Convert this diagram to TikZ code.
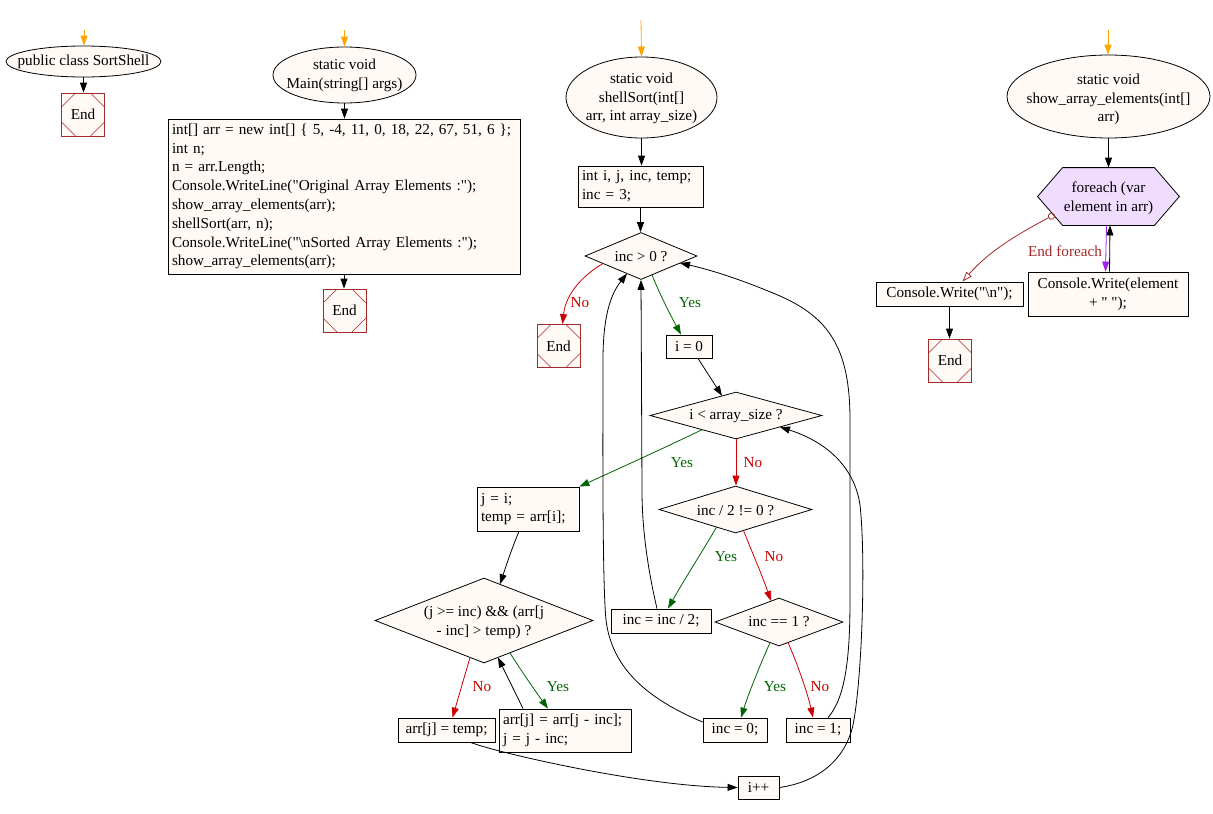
\documentclass[tikz,border=0pt]{standalone}
\usepackage{fontspec}
\setmainfont{Liberation Serif}
\newfontfamily\lsfont{Liberation Serif}
\usetikzlibrary{shapes.geometric,arrows.meta}
\definecolor{nodefill}{HTML}{FFFAF5}
\definecolor{endred}{HTML}{A52A2A}
\definecolor{nored}{HTML}{CC0000}
\definecolor{yesgreen}{HTML}{006400}
\definecolor{startorange}{HTML}{FFA500}
\definecolor{loopfill}{HTML}{F0DCFF}
\definecolor{looppurple}{HTML}{A020F0}
\begin{document}
\begin{tikzpicture}[x=1pt,y=-1pt,
  font=\lsfont\fontsize{15.2}{18.8}\selectfont,
  line width=0.8pt,
  >={Triangle[length=10pt,width=7pt]},
  ell/.style={ellipse, draw, fill=nodefill, inner sep=0pt},
  proc/.style={rectangle, draw, fill=nodefill, inner sep=0pt},
  lproc/.style={rectangle, draw, fill=nodefill, inner xsep=4pt, inner ysep=2pt, align=left},
  dia/.style={diamond, draw, fill=nodefill, inner sep=0pt},
  txt/.style={align=center, inner sep=0pt},
  endbox/.style={rectangle, draw=endred, fill=nodefill, minimum width=43pt, minimum height=43pt, inner sep=0pt,
    path picture={
      \draw[endred, line width=0.6pt] ([yshift=-14pt]path picture bounding box.north west) -- ([xshift=14pt]path picture bounding box.north west);
      \draw[endred, line width=0.6pt] ([xshift=-14pt]path picture bounding box.north east) -- ([yshift=-14pt]path picture bounding box.north east);
      \draw[endred, line width=0.6pt] ([yshift=14pt]path picture bounding box.south east) -- ([xshift=-14pt]path picture bounding box.south east);
      \draw[endred, line width=0.6pt] ([xshift=14pt]path picture bounding box.south west) -- ([yshift=14pt]path picture bounding box.south west);
    }},
  flow/.style={->, black},
  yesarrow/.style={->, yesgreen},
  noarrow/.style={->, nored},
  startarrow/.style={->, startorange},
  lyes/.style={text=yesgreen, inner sep=0pt},
  lno/.style={text=nored, inner sep=0pt}
]
\useasboundingbox (0,0) rectangle (1213,814);

% ---------------- column 1
\coordinate (s1) at (84,30);
\node[ell, minimum width=155pt, minimum height=31pt] (e1) at (83.5,61.5) {};
\node[txt] (e1t) at (83.5,62) {public class SortShell};
\node[endbox] (end1) at (83,114.5) {End};
\draw[startarrow] (s1) -- (s1 |- e1.north);
\draw[flow] (e1.south) -- (e1.south |- end1.north);

% ---------------- column 2
\coordinate (s2) at (344.5,30);
\node[ell, minimum width=143pt, minimum height=56pt] (e2) at (344.5,75) {};
\node[txt] (e2t) at (344.5,75.5) {static void\\Main(string[] args)};
\node[lproc, text width=344pt, minimum height=155pt] (b2) at (344,196.5) {int[] arr = new int[] \{ 5, -4, 11, 0, 18, 22, 67, 51, 6 \};\\int n;\\n = arr.Length;\\Console.WriteLine("Original Array Elements :");\\show\_array\_elements(arr);\\shellSort(arr, n);\\Console.WriteLine("\textbackslash nSorted Array Elements :");\\show\_array\_elements(arr);};
\node[endbox] (end2) at (344.5,310.5) {End};
\draw[startarrow] (s2) -- (e2.north);
\draw[flow] (e2.south) -- (e2.south |- b2.north);
\draw[flow] (b2.south) -- (b2.south |- end2.north);

% ---------------- column 3
\coordinate (s3) at (641,20);
\node[ell, minimum width=151pt, minimum height=81pt] (e3) at (641.5,97.5) {};
\node[txt] (e3t) at (641.5,98.5) {static void\\shellSort(int[]\\arr, int array\_size)};
\node[lproc, text width=117pt, minimum height=41pt] (b3) at (640.5,186.5) {int i, j, inc, temp;\\inc = 3;};
\node[dia, minimum width=112pt, minimum height=47pt] (d1) at (641,256) {};
\node[txt] (d1t) at (641,257) {inc > 0 ?};
\node[endbox] (end3) at (558.5,346) {End};
\node[proc, minimum width=46pt, minimum height=23pt] (bi0) at (689,346.5) {i = 0};
\node[dia, minimum width=172pt, minimum height=47pt] (d2) at (736,415.5) {};
\node[txt] (d2t) at (736,416.5) {i < array\_size ?};
\node[lproc, text width=94pt, minimum height=44pt] (bj) at (528,509) {j = i;\\temp = arr[i];};
\node[dia, minimum width=218pt, minimum height=85pt] (d4) at (484,620.5) {};
\node[txt] (d4t) at (484,622) {(j >= inc) \&\& (arr[j\\- inc] > temp) ?};
\node[proc, minimum width=97pt, minimum height=24pt] (bt) at (446.5,730) {arr[j] = temp;};
\node[lproc, text width=124pt, minimum height=43pt] (bs) at (565,730.5) {arr[j] = arr[j - inc];\\j = j - inc;};
\node[proc, minimum width=41pt, minimum height=23pt] (bpp) at (758.5,787.5) {i++};
\node[dia, minimum width=153pt, minimum height=47pt] (d3) at (735.5,509.5) {};
\node[txt] (d3t) at (735.5,510.5) {inc / 2 != 0 ?};
\node[proc, minimum width=100pt, minimum height=24pt] (bh) at (661,621) {inc = inc / 2;};
\node[dia, minimum width=128pt, minimum height=48pt] (d5) at (779,622) {};
\node[txt] (d5t) at (779,622) {inc == 1 ?};
\node[proc, minimum width=64pt, minimum height=24pt] (b0) at (735,730) {inc = 0;};
\node[proc, minimum width=64pt, minimum height=24pt] (b1) at (818,730) {inc = 1;};

\draw[startarrow] (s3) -- (e3.north);
\draw[flow] (e3.south) -- (e3.south |- b3.north);
\draw[flow] (b3.south) -- (b3.south |- d1.north);
\draw[noarrow] ([shift={(-38,7.5)}]d1.center) .. controls (585,274) and (566,292) .. ([xshift=4pt]end3.north);
\node[lno] (lno1) at (580,303) {No};
\draw[yesarrow] ([shift={(11,18.9)}]d1.center) .. controls (660,295) and (672,318) .. ([xshift=-8pt]bi0.north);
\node[lyes] (lyes1) at (690,303) {Yes};
\draw[flow] ([xshift=9pt]bi0.south) -- ([shift={(-14,-19.7)}]d2.center);
\draw[yesarrow] ([shift={(-34,14.2)}]d2.center) .. controls (660,450) and (620,468) .. (bj.north east);
\node[lyes] (lyes2) at (682,463) {Yes};
\draw[noarrow] (d2.south) -- (d2.south |- d3.north);
\node[lno] (lno2) at (753,463) {No};
\draw[flow] ([xshift=-9pt]bj.south) .. controls (512,548) and (506,566) .. ([shift={(16,-36.3)}]d4.center);
\draw[noarrow] ([shift={(-14,37)}]d4.center) -- ([xshift=6pt]bt.north);
\node[lno] (lno3) at (482,687) {No};
\draw[yesarrow] ([shift={(26,32.4)}]d4.center) .. controls (522,672) and (536,692) .. ([xshift=-17pt]bs.north);
\node[lyes] (lyes3) at (558,687) {Yes};
\draw[flow] ([xshift=-42pt]bs.north) .. controls (515,692) and (505,672) .. ([shift={(14,37)}]d4.center);
\draw[flow] ([xshift=24pt]bt.south) .. controls (495,752) and (640,786) .. (bpp.west);
\draw[flow] (bpp.east) .. controls (818,782) and (845,760) .. (853,725) .. controls (862,680) and (866,560) .. (860,505) .. controls (855,470) and (830,443) .. ([shift={(44,11.5)}]d2.center);
\draw[yesarrow] ([shift={(-19,17.7)}]d3.center) .. controls (702,552) and (684,580) .. ([xshift=7pt]bh.north);
\node[lyes] (lyes4) at (726,557) {Yes};
\draw[noarrow] ([shift={(8,21)}]d3.center) .. controls (752,552) and (762,575) .. ([shift={(-8,-21)}]d5.center);
\node[lno] (lno4) at (774,557) {No};
\draw[yesarrow] ([shift={(-9,20.6)}]d5.center) .. controls (760,665) and (748,695) .. ([xshift=6pt]b0.north);
\node[lyes] (lyes5) at (775,687) {Yes};
\draw[noarrow] ([shift={(9,20.6)}]d5.center) .. controls (798,665) and (808,695) .. ([xshift=-5pt]b1.north);
\node[lno] (lno5) at (820,687) {No};
% loop backs
\draw[flow] ([xshift=-4pt]bh.north) .. controls (648,570) and (642,530) .. (642,490) -- (d1.south);
\draw[flow] ([shift={(0,-8)}]b0.west) .. controls (650,700) and (612,670) .. (606,620) .. controls (602,580) and (603,420) .. (603,360) .. controls (603,318) and (610,295) .. ([shift={(-14,17.6)}]d1.center);
\draw[flow] ([xshift=10pt]b1.north) .. controls (845,698) and (850,660) .. (850,600) -- (850,420) .. controls (850,350) and (830,318) .. (780,296) .. controls (745,281) and (712,270) .. ([shift={(39,7.1)}]d1.center);

% ---------------- column 4
\coordinate (s4) at (1108,30);
\node[ell, minimum width=203pt, minimum height=83pt] (e4) at (1108.5,96.5) {};
\node[txt] (e4t) at (1108.5,99.5) {static void\\show\_array\_elements(int[]\\arr)};
\node[minimum width=141pt, minimum height=57pt, inner sep=0pt] (fe) at (1108.5,196.5) {};
\draw[fill=loopfill] (fe.west) -- ([xshift=25pt]fe.north west) -- ([xshift=-25pt]fe.north east) -- (fe.east) -- ([xshift=-25pt]fe.south east) -- ([xshift=25pt]fe.south west) -- cycle;
\node[txt] (fet) at (1108.5,198) {foreach (var\\element in arr)};
\node[proc, minimum width=147pt, minimum height=24pt] (cw) at (949.5,294) {Console.Write("\textbackslash n");};
\node[proc, align=center, minimum width=160pt, minimum height=44pt] (ce) at (1108,294) {Console.Write(element\\+ " ");};
\node[endbox] (end4) at (950,360.5) {End};
\draw[startarrow] (s4) -- (s4 |- e4.north);
\draw[flow] (e4.south) -- (e4.south |- fe.north);
\draw[->, looppurple] ([xshift=-2pt]fe.south) -- ([xshift=-2.5pt]ce.north);
\draw[flow] ([xshift=1.5pt]ce.north) -- ([xshift=1.5pt]fe.south);
\draw[endred, {Circle[open,length=7pt,width=7pt]}-{Triangle[open,length=10pt,width=7pt]}] ([shift={(-54,18)}]fe.center) .. controls (1020,233) and (990,250) .. ([xshift=13pt]cw.north);
\node[text=endred, inner sep=0pt] (lfe) at (1065,251) {End foreach};
\draw[flow] (cw.south) -- (cw.south |- end4.north);
\end{tikzpicture}
\end{document}
